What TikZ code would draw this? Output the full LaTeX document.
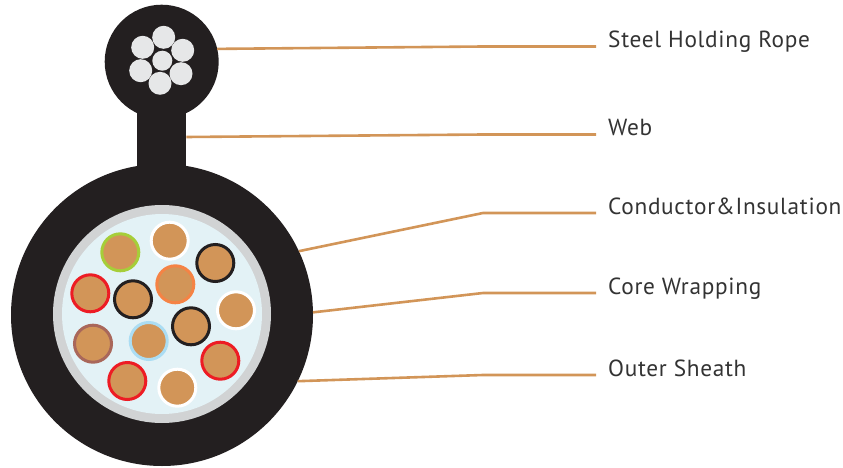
\documentclass[tikz,border=0pt]{standalone}
\usepackage{fontspec}
\setmainfont[LetterSpace=3]{PT Sans}
\definecolor{sheath}{HTML}{231F20}
\definecolor{copper}{HTML}{D29558}
\definecolor{wire}{HTML}{E6E7E8}
\definecolor{wrapring}{HTML}{D1D3D4}
\definecolor{filler}{HTML}{E3F2F6}
\definecolor{labeltext}{HTML}{333333}
\definecolor{ringgreen}{HTML}{A6CE39}
\definecolor{ringred}{HTML}{ED1C24}
\definecolor{ringorange}{HTML}{F58345}
\definecolor{ringblue}{HTML}{ABDDF3}
\definecolor{ringbrown}{HTML}{A9675A}
\tikzset{
  disc/.style={circle,inner sep=0pt,outer sep=0pt,minimum size=#1},
  core/.style={circle,inner sep=0pt,outer sep=0pt,minimum size=37pt,fill=copper,draw=#1,line width=3pt},
  strand/.style={circle,inner sep=0pt,outer sep=0pt,minimum size=23pt,fill=wire},
  leader/.style={draw=copper,line width=2.6pt,line join=round},
  callout/.style={anchor=base west,inner sep=0pt,text=labeltext,font=\fontsize{23.3}{27}\selectfont},
}
\begin{document}
\begin{tikzpicture}[x=1pt,y=-1pt]
\useasboundingbox (0,0) rectangle (843,468);
% cable body
\node[disc=114pt,fill=sheath] (rope) at (161.7,61.7) {};
\node[rectangle,inner sep=0pt,outer sep=0pt,minimum width=49pt,minimum height=76pt,fill=sheath] (web) at (161.8,137) {};
\node[disc=302pt,fill=sheath] (jacket) at (162,315) {};
\node[disc=218pt,fill=wrapring] (wrap) at (162,314) {};
\node[disc=200pt,fill=filler] (fill) at (162,314) {};
% steel strands
\node[strand,minimum size=20pt] (s0) at (162.3,60.7) {};
\node[strand] (s1) at (163.7,37.3) {};
\node[strand] (s2) at (182.7,50.3) {};
\node[strand] (s3) at (142.7,47.3) {};
\node[strand] (s4) at (140.7,70.7) {};
\node[strand] (s5) at (181,73.7) {};
\node[strand] (s6) at (160,83.3) {};
% insulated conductors
\node[core=white] (c1) at (169.7,240.7) {};
\node[core=white] (c2) at (236,310.3) {};
\node[core=white] (c3) at (177.3,387.7) {};
\node[core=ringgreen] (c4) at (120.3,252.3) {};
\node[core=sheath] (c5) at (215.3,263) {};
\node[core=ringorange] (c6) at (175.3,284.3) {};
\node[core=ringred] (c7) at (90.3,293.3) {};
\node[core=sheath] (c8) at (133,299.3) {};
\node[core=sheath] (c9) at (191,326.3) {};
\node[core=ringblue] (c10) at (148.7,341) {};
\node[core=ringbrown] (c11) at (93,343.7) {};
\node[core=ringred] (c12) at (220.3,360.7) {};
\node[core=ringred] (c13) at (127.3,381) {};
% labels
\node[callout] (l1) at (608,47.3) {Steel Holding Rope};
\node[callout] (l2) at (608,135.7) {Web};
\node[callout] (l3) at (608,214.5) {Conductor\&Insulation};
\node[callout] (l4) at (608,294.5) {Core Wrapping};
\node[callout] (l5) at (608,376) {Outer Sheath};
% leader lines
\coordinate (e1) at (596,46.5);
\coordinate (e2) at (596,134.5);
\coordinate (e3) at (596,213);
\coordinate (e4) at (596,293);
\coordinate (e5) at (596,375);
\coordinate (b1) at (483,46.5);
\coordinate (b2) at (483,134.5);
\coordinate (b3) at (483,213);
\coordinate (b4) at (483,293);
\coordinate (b5) at (483,375);
\draw[leader] (rope.13) -- (b1) -- (e1);
\draw[leader] (web.east) -- (b2) -- (e2);
\draw[leader] (jacket.25.5) -- (b3) -- (e3);
\draw[leader] (jacket.1.5) -- (b4) -- (e4);
\draw[leader] (jacket.-26.4) -- (b5) -- (e5);
\end{tikzpicture}
\end{document}
